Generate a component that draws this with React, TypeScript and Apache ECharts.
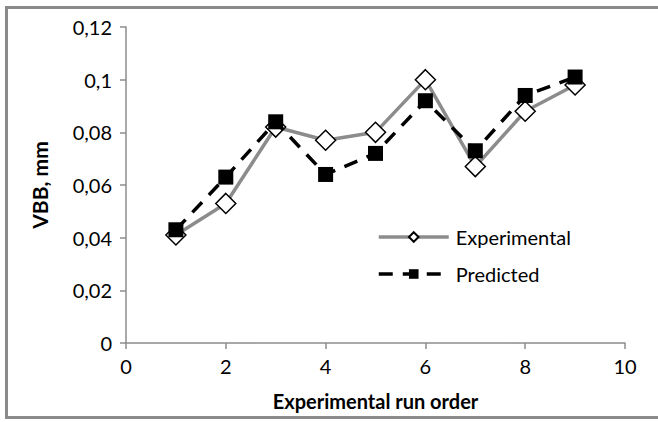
import React, { useEffect, useRef } from "react";
import * as echarts from "echarts";

const runOrder = [1, 2, 3, 4, 5, 6, 7, 8, 9];
const experimental = [0.041, 0.053, 0.082, 0.077, 0.08, 0.1, 0.067, 0.088, 0.098];
const predicted = [0.043, 0.063, 0.084, 0.064, 0.072, 0.092, 0.073, 0.094, 0.101];
const seriesNames = ["Experimental", "Predicted"];
const xTitle = "Experimental run order";
const yTitle = "VBB, mm";

const FONT = "Lato";

export default function App() {
  const ref = useRef<HTMLDivElement>(null);
  useEffect(() => {
    if (!ref.current) return;
    document.body.style.margin = "0";
    const chart = echarts.init(ref.current, null, { renderer: "svg" });
    const fmt = (v: number) => String(Math.round(v * 100) / 100).replace(".", ",");
    chart.setOption({
      animation: false,
      backgroundColor: "#ffffff",
      textStyle: { fontFamily: FONT },
      grid: { left: 126, right: 33, top: 27, bottom: 79 },
      graphic: [
        {
          type: "rect",
          shape: { x: 6.5, y: 7.5, width: 700, height: 410 },
          style: { fill: "none", stroke: "#8a8a8a", lineWidth: 3 },
          silent: true,
        },
      ],
      legend: {
        orient: "vertical",
        left: 377,
        top: 227,
        padding: 0,
        itemWidth: 70,
        itemHeight: 12,
        itemGap: 17,
        lineStyle: { width: 3.5 },
        textStyle: { fontFamily: FONT, fontSize: 20, color: "#000", padding: [0, 0, 0, 2] },
        data: seriesNames,
      },
      xAxis: {
        type: "value",
        min: 0,
        max: 10,
        interval: 2,
        name: xTitle,
        nameLocation: "middle",
        nameGap: 48,
        nameTextStyle: { fontFamily: FONT, fontSize: 20, fontWeight: "bold", color: "#000" },
        axisLine: { show: true, lineStyle: { color: "#8c8c8c", width: 1.5 } },
        axisTick: { show: true, length: 6, lineStyle: { color: "#8c8c8c", width: 1.5 } },
        axisLabel: { fontFamily: FONT, fontSize: 20, color: "#000", margin: 13 },
        splitLine: { show: false },
      },
      yAxis: {
        type: "value",
        min: 0,
        max: 0.12,
        interval: 0.02,
        name: yTitle,
        nameLocation: "middle",
        nameGap: 76,
        nameRotate: 90,
        nameTextStyle: { fontFamily: FONT, fontSize: 21, fontWeight: "bold", color: "#000" },
        axisLine: { show: true, lineStyle: { color: "#8c8c8c", width: 1.5 } },
        axisTick: { show: true, length: 6, lineStyle: { color: "#8c8c8c", width: 1.5 } },
        axisLabel: { fontFamily: FONT, fontSize: 20, color: "#000", margin: 14, formatter: fmt },
        splitLine: { show: false },
      },
      series: [
        {
          name: seriesNames[0],
          type: "line",
          data: runOrder.map((x, i) => [x, experimental[i]]),
          symbol: "diamond",
          symbolSize: 20,
          lineStyle: { color: "#8c8c8c", width: 3.5 },
          itemStyle: { color: "#ffffff", borderColor: "#000", borderWidth: 1.5 },
          z: 2,
        },
        {
          name: seriesNames[1],
          type: "line",
          data: runOrder.map((x, i) => [x, predicted[i]]),
          symbol: "rect",
          symbolSize: 15,
          lineStyle: { color: "#000", width: 3.5, type: [14, 10] },
          itemStyle: { color: "#000", borderColor: "#000", borderWidth: 0 },
          z: 3,
        },
      ],
    });
    return () => chart.dispose();
  }, []);
  return <div ref={ref} style={{ width: 658, height: 422 }} />;
}
